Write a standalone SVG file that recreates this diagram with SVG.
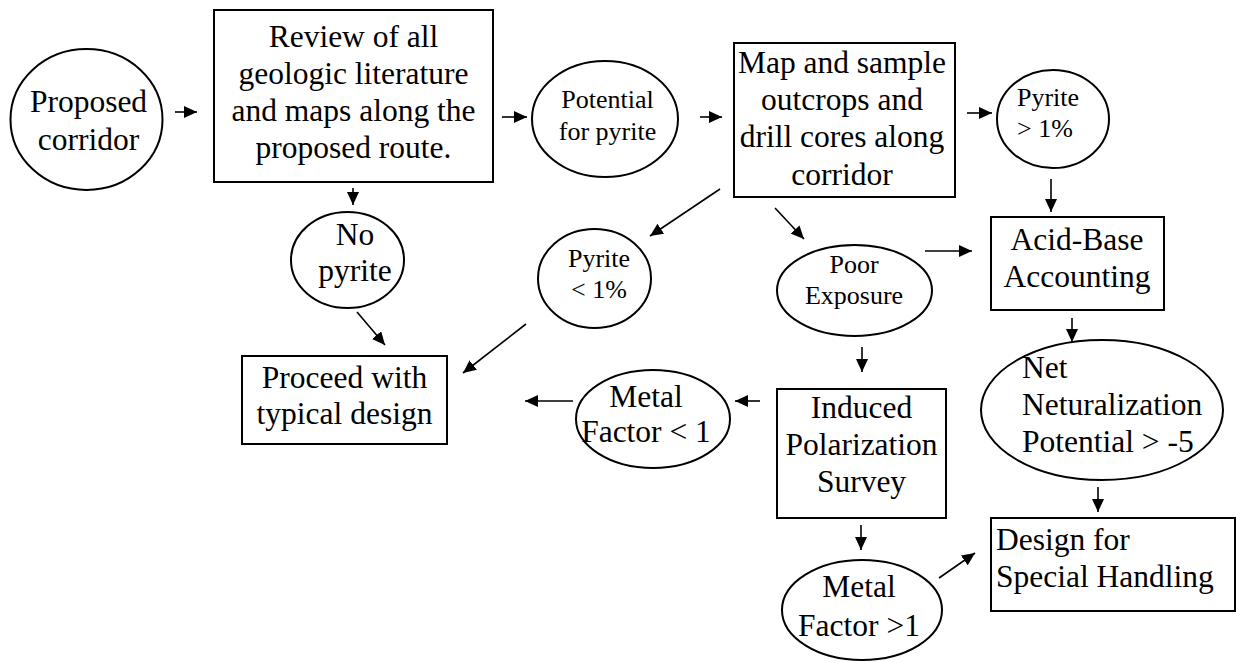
<svg xmlns="http://www.w3.org/2000/svg" width="1236" height="662" viewBox="0 0 1236 662">
<style>
  .shape { fill: #ffffff; stroke: #000000; stroke-width: 2; }
  .big { font-family: "Liberation Serif", "Times New Roman", serif; font-size: 31.5px; fill: #000000; }
  .small { font-family: "Liberation Serif", "Times New Roman", serif; font-size: 26px; fill: #000000; }
  .mid { text-anchor: middle; }
  .conn line { stroke: #000000; stroke-width: 1.6; marker-end: url(#ah); }
</style>
<defs>
  <marker id="ah" markerUnits="userSpaceOnUse" markerWidth="14" markerHeight="12" refX="13" refY="6" orient="auto">
    <path d="M0,0 L13,6 L0,12 Z" fill="#000000"/>
  </marker>
</defs>
<rect x="0" y="0" width="1236" height="662" fill="#ffffff"/>

<g id="proposed-corridor">
  <ellipse class="shape" cx="86.5" cy="119.5" rx="76" ry="70.5"/>
  <text class="big mid" x="88.5" y="112">Proposed</text>
  <text class="big mid" x="88.5" y="150">corridor</text>
</g>

<g id="review">
  <rect class="shape" x="214" y="10" width="279" height="172"/>
  <text class="big mid" x="353.5" y="47">Review of all</text>
  <text class="big mid" x="353.5" y="84">geologic literature</text>
  <text class="big mid" x="353.5" y="121">and maps along the</text>
  <text class="big mid" x="353.5" y="158">proposed route.</text>
</g>

<g id="potential-for-pyrite">
  <ellipse class="shape" cx="605" cy="119" rx="73" ry="58"/>
  <text class="small mid" x="607.5" y="108">Potential</text>
  <text class="small mid" x="607.5" y="140">for pyrite</text>
</g>

<g id="map-and-sample">
  <rect class="shape" x="734" y="43" width="221" height="154"/>
  <text class="big mid" x="842" y="73">Map and sample</text>
  <text class="big mid" x="842" y="110">outcrops and</text>
  <text class="big mid" x="842" y="147">drill cores along</text>
  <text class="big mid" x="842" y="185">corridor</text>
</g>

<g id="pyrite-gt-1">
  <ellipse class="shape" cx="1053" cy="119" rx="56" ry="49"/>
  <text class="small" x="1017" y="106">Pyrite</text>
  <text class="small" x="1017" y="137">&gt; 1%</text>
</g>

<g id="no-pyrite">
  <ellipse class="shape" cx="347.5" cy="260" rx="56.5" ry="48"/>
  <text class="big mid" x="355" y="245">No</text>
  <text class="big mid" x="355" y="281">pyrite</text>
</g>

<g id="pyrite-lt-1">
  <ellipse class="shape" cx="594.5" cy="278.5" rx="56.5" ry="49.5"/>
  <text class="small mid" x="599" y="267">Pyrite</text>
  <text class="small mid" x="599" y="298">&lt; 1%</text>
</g>

<g id="poor-exposure">
  <ellipse class="shape" cx="854.5" cy="290.5" rx="77.5" ry="45.5"/>
  <text class="small mid" x="854" y="273">Poor</text>
  <text class="small mid" x="854" y="304">Exposure</text>
</g>

<g id="acid-base">
  <rect class="shape" x="991" y="217" width="173" height="93"/>
  <text class="big mid" x="1077" y="250">Acid-Base</text>
  <text class="big mid" x="1077" y="287">Accounting</text>
</g>

<g id="proceed">
  <rect class="shape" x="242" y="356" width="205" height="88"/>
  <text class="big mid" x="344.5" y="388">Proceed with</text>
  <text class="big mid" x="344.5" y="424">typical design</text>
</g>

<g id="metal-lt-1">
  <ellipse class="shape" cx="653" cy="419" rx="77" ry="49"/>
  <text class="big mid" x="646" y="407">Metal</text>
  <text class="big mid" x="646" y="442">Factor &lt; 1</text>
</g>

<g id="induced-polarization">
  <rect class="shape" x="777" y="389" width="169" height="129"/>
  <text class="big mid" x="861.5" y="418">Induced</text>
  <text class="big mid" x="861.5" y="455">Polarization</text>
  <text class="big mid" x="861.5" y="492">Survey</text>
</g>

<g id="net-neutralization">
  <ellipse class="shape" cx="1102" cy="410" rx="121" ry="70"/>
  <text class="big" x="1022" y="378">Net</text>
  <text class="big" x="1022" y="415">Neturalization</text>
  <text class="big" x="1022" y="452">Potential &gt; -5</text>
</g>

<g id="metal-gt-1">
  <ellipse class="shape" cx="862" cy="610" rx="80" ry="50"/>
  <text class="big mid" x="859" y="597">Metal</text>
  <text class="big mid" x="859" y="636">Factor &gt;1</text>
</g>

<g id="design-special">
  <rect class="shape" x="991" y="518" width="244" height="93"/>
  <text class="big" x="996" y="550">Design for</text>
  <text class="big" x="996" y="587">Special Handling</text>
</g>

<g id="connectors" class="conn">
  <line x1="175" y1="112" x2="197" y2="112"/>
  <line x1="353" y1="188" x2="353" y2="205"/>
  <line x1="502" y1="117" x2="527" y2="117"/>
  <line x1="700" y1="117" x2="722" y2="117"/>
  <line x1="967" y1="113" x2="992" y2="113"/>
  <line x1="1051" y1="179" x2="1051" y2="212"/>
  <line x1="720" y1="189" x2="650" y2="236"/>
  <line x1="775" y1="208" x2="804" y2="239"/>
  <line x1="925" y1="251" x2="972" y2="251"/>
  <line x1="1072" y1="318" x2="1072" y2="342"/>
  <line x1="1098" y1="487" x2="1098" y2="512"/>
  <line x1="862" y1="347" x2="862" y2="372"/>
  <line x1="760" y1="401" x2="735" y2="401"/>
  <line x1="573" y1="401" x2="525" y2="401"/>
  <line x1="861" y1="525" x2="861" y2="550"/>
  <line x1="939" y1="578" x2="975" y2="553"/>
  <line x1="357" y1="312" x2="385" y2="345"/>
  <line x1="526" y1="324" x2="463" y2="373"/>
</g>
</svg>
